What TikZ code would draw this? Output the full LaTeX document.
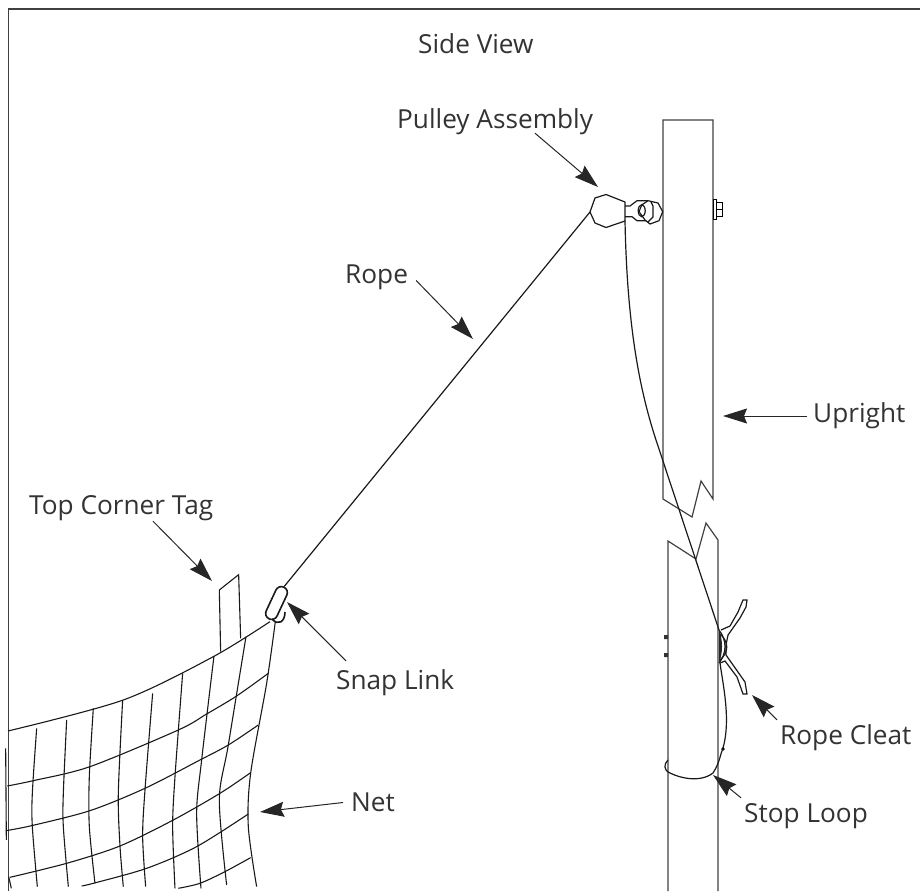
\documentclass[tikz,border=0pt]{standalone}
\usepackage{fontspec}
\setmainfont{Open Sans}
\usetikzlibrary{arrows.meta}

\begin{document}
\begin{tikzpicture}[x=1pt, y=-1pt]
	\tikzset{tag/.style = {anchor=base west, inner sep=3pt, text height=21pt, text depth=4pt, text=black!80, font=\fontsize{26.2pt}{30pt}\selectfont}}
	\tikzset{leader/.style = {-{Stealth[length=24pt, width=15pt, inset=3pt]}, line width=1pt, black!85}}
	\tikzset{part/.style = {line width=1.2pt, black!75, line join=miter}}
	\tikzset{cord/.style = {line width=1.2pt, black!90}}
	\tikzset{mesh/.style = {line width=1.1pt, black!90}}
	\useasboundingbox (0, 0) rectangle (920, 891);

	% frame
	\draw[line width=1.2pt, black!75] (8.5, 891) -- (8.5, 9) -- (920, 9);

	% labels
	\node[tag] (view) at (415, 53) {Side View};
	\node[tag] (pulleylabel) at (394, 128) {Pulley Assembly};
	\node[tag] (ropelabel) at (342, 283) {Rope};
	\node[tag] (uprightlabel) at (810, 422) {Upright};
	\node[tag] (taglabel) at (26, 514) {Top Corner Tag};
	\node[tag] (linklabel) at (333, 689) {Snap Link};
	\node[tag] (netlabel) at (348, 811) {Net};
	\node[tag] (cleatlabel) at (777, 744) {Rope Cleat};
	\node[tag] (looplabel) at (741, 822) {Stop Loop};

	% upright
	\draw[part] (663, 499) -- (663, 120) -- (713, 120) -- (713, 499) -- (701, 481) -- (692, 517) -- cycle;
	\draw[part] (668, 891) -- (668, 541) -- (696, 559) -- (706, 523) -- (718, 540) -- (718, 891);
	\draw[part, black] (713.3, 199.3) rectangle (716.7, 219.3);
	\draw[part, black, line width=0.9pt] (716.7, 202.7) rectangle (722.7, 216) (716.7, 209.3) -- (722.7, 209.3);
	\fill[black!80] (664, 635) rectangle (668, 639) (664, 653) rectangle (668, 657);

	% pulley
	\draw[cord] (590, 212) -- (595, 198) -- (606, 194.5) -- (625, 202) -- (625, 221) -- (606, 227.5) -- (595, 223) -- cycle;
	\draw[cord] (625, 206) -- (630, 206) -- (637, 200.7) -- (648, 200.7) (625, 216.7) -- (632, 216.7) -- (637, 220.7) -- (646, 220.7);
	\draw[cord] (648, 200.7) -- (658, 203) -- (662.7, 211.7) -- (659, 220.7) -- (650, 224) -- (645, 220) -- (639, 211.7) -- (641.7, 205) -- cycle;
	\draw[cord] (651, 202) -- (653, 206) -- (653, 217) -- (648, 222);
	\draw[cord] (641.7, 210.7) ellipse (3.5 and 6);
	\coordinate (pulleyleft) at (590, 212);

	% cleat
	\draw[cord] (721, 630) -- (730, 626) -- (738, 612) -- (743, 600) -- (747, 600) -- (746, 607) -- (740, 618) -- (728, 635) -- (726, 645) -- (726, 655) -- (745, 682) -- (747, 694) -- (743, 694) -- (737, 677) -- (725, 661) -- (720, 663);
	\fill[black!85] (719, 630) .. controls (723, 640) and (723, 653) .. (719, 663) -- cycle;
	\draw[cord] (719, 630) .. controls (727, 640) and (727, 653) .. (719, 663);
	\draw[cord] (720, 634) .. controls (729, 642) and (729, 652) .. (720, 660);

	% rope down the upright
	\draw[cord] (625, 221) .. controls (627, 320) and (638, 385) .. (656, 440) -- (719, 630);
	\draw[cord] (720, 663) .. controls (723, 685) and (731, 720) .. (723, 748);
	\fill (723, 749) circle (1.8);
	\draw[cord] (723, 748) .. controls (720, 755) and (720, 762) .. (713, 773) .. controls (700, 783) and (680, 778) .. (670, 773) .. controls (663, 770) and (664, 764) .. (668, 760);

	% snap link and rope
	\node[draw, cord, line width=1.6pt, minimum width=35pt, minimum height=12pt, inner sep=0pt, rounded corners=6pt, rotate=65] (link) at (276.5, 603) {};
	\draw[cord] (pulleyleft) -- (link.east);
	\draw[cord, line width=1.6pt] (285, 612) .. controls (285, 622) and (278, 626) .. (272, 619);

	% tag and net
	\begin{scope}[shift={(0, 560)}, x=0.3333pt, y=-0.3333pt]
		\draw[mesh] (662, 275) -- (658, 90) -- (716, 44) -- (722, 235);
		\draw[mesh] plot[smooth] coordinates {(24, 513) (370, 420) (640, 290) (810, 185)};
		\draw[mesh] plot[smooth] coordinates {(22, 678) (100, 662) (270, 620) (535, 510) (620, 462) (710, 408) (805, 340)};
		\draw[mesh] plot[smooth] coordinates {(18, 812) (95, 797) (270, 752) (435, 685) (600, 600) (685, 555) (775, 495)};
		\draw[mesh] plot[smooth] coordinates {(30, 952) (200, 910) (360, 858) (520, 780) (660, 700) (752, 638)};
		\draw[mesh] plot[smooth] coordinates {(245, 978) (280, 970) (440, 925) (590, 860) (745, 762)};
		\draw[mesh] plot[smooth] coordinates {(535, 985) (600, 970) (675, 935) (752, 893)};
		\draw[mesh] plot[smooth] coordinates {(110, 505) (97, 700) (97, 800) (112, 980)};
		\draw[mesh] plot[smooth] coordinates {(200, 480) (190, 700) (190, 800) (205, 980)};
		\draw[mesh] plot[smooth] coordinates {(280, 445) (268, 650) (268, 800) (285, 970)};
		\draw[mesh] plot[smooth] coordinates {(368, 420) (355, 700) (360, 858) (370, 980)};
		\draw[mesh] plot[smooth] coordinates {(458, 400) (435, 690) (428, 830) (437, 980)};
		\draw[mesh] plot[smooth] coordinates {(548, 340) (525, 650) (518, 800) (525, 985)};
		\draw[mesh] plot[smooth] coordinates {(642, 288) (605, 600) (590, 760) (603, 985)};
		\draw[mesh] plot[smooth] coordinates {(738, 230) (685, 555) (658, 720) (680, 975)};
		\draw[mesh] plot[smooth] coordinates {(826, 185) (800, 370) (752, 640) (745, 800) (770, 980)};
		\draw[mesh] (17, 565) -- (19, 840);
		\draw[mesh] (26, 950) -- (34, 985);
	\end{scope}

	% leaders
	\coordinate (pulleytip) at (598, 187);
	\coordinate (ropetip) at (473, 339);
	\coordinate (uprighttip) at (723, 416);
	\coordinate (tagtip) at (212, 581);
	\coordinate (linktip) at (287, 602);
	\coordinate (nettip) at (260, 812);
	\coordinate (cleattip) at (752, 695);
	\coordinate (looptip) at (713, 775);
	\draw[leader] ([xshift=141pt, yshift=2pt]pulleylabel.south west) -- (pulleytip);
	\draw[leader] ([xshift=5pt, yshift=-6pt]ropelabel.east) -- (ropetip);
	\draw[leader] ([xshift=-3pt, yshift=-2.5pt]uprightlabel.west) -- (uprighttip);
	\draw[leader] ([xshift=127pt]taglabel.south west) -- (tagtip);
	\draw[leader] ([xshift=13pt, yshift=4pt]linklabel.north west) -- (linktip);
	\draw[leader] ([xshift=-5pt]netlabel.west) -- (nettip);
	\draw[leader] (cleatlabel.north west) -- (cleattip);
	\draw[leader] (looplabel.north west) -- (looptip);
\end{tikzpicture}
\end{document}
